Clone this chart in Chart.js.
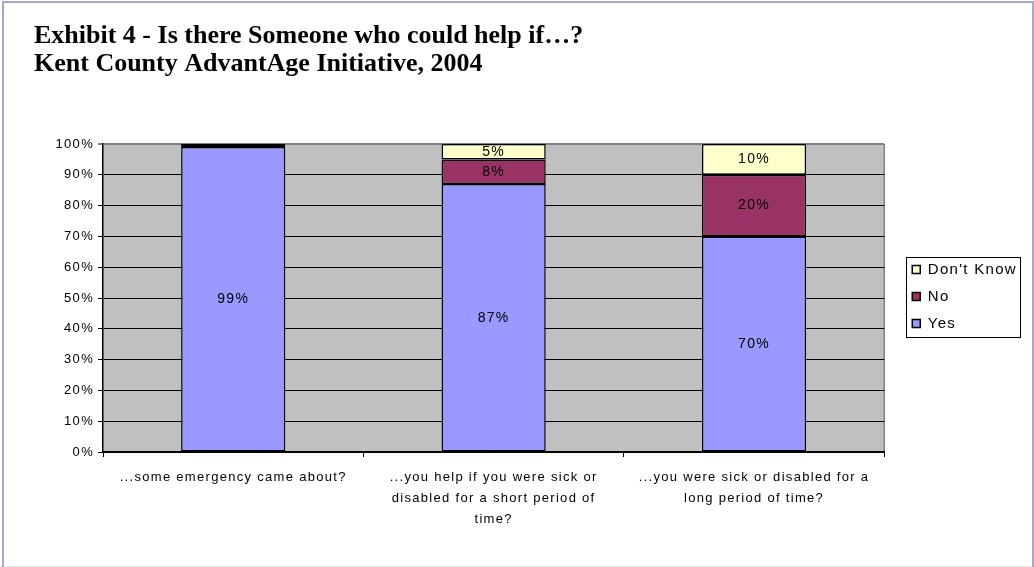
<!DOCTYPE html>
<html>
<head>
<meta charset="utf-8">
<script src="https://cdn.jsdelivr.net/npm/chart.js@4.4.1/dist/chart.umd.min.js"></script>
<style>
  html, body { margin: 0; padding: 0; background: #fff; }
  #wrap { position: relative; width: 1034px; height: 567px; overflow: hidden; }
  #frame {
    position: absolute; left: 2px; top: 1px; width: 1028px; height: 600px;
    border: 2px solid #a6a6d4; border-bottom: none; pointer-events: none;
  }
  #foot { position: absolute; left: 0; top: 566px; width: 1034px; height: 1px; background: #e6e6e6; }
</style>
</head>
<body>
<div id="wrap">
  <canvas id="chart" width="1034" height="567"></canvas>
  <div id="foot"></div>
  <div id="frame"></div>
</div>
<script>
const categories = [
  ["...some emergency came about?"],
  ["...you help if you were sick or", "disabled for a short period of", "time?"],
  ["...you were sick or disabled for a", "long period of time?"],
];
const yesValues = [99, 87, 70];
const noValues = [1, 8, 20];
const dontKnowValues = [0, 5, 10];
const yTickStep = 10;
const titleLines = [
  "Exhibit 4 - Is there Someone who could help if\u2026?",
  "Kent County AdvantAge Initiative, 2004",
];

const spacing = "1.3px";
Chart.defaults.font.family = "'Liberation Sans', Arial, sans-serif";
Chart.defaults.color = "#000";

// Excel-ish look: grey plot area, spaced text, boxed legend, value labels
const excelLook = {
  id: "excelLook",
  afterInit(chart) {
    // title keeps normal spacing
    const t = chart.titleBlock;
    const orig = t.draw;
    t.draw = function (...args) {
      this.ctx.letterSpacing = "0px";
      orig.apply(this, args);
      this.ctx.letterSpacing = spacing;
    };
  },
  beforeUpdate(chart) {
    chart.ctx.letterSpacing = spacing;
  },
  afterLayout(chart) {
    const lg = chart.legend;
    lg.left += 16;
    lg.right += 16;
    lg.top += 2;
    lg.bottom += 2;
  },
  beforeDraw(chart) {
    const { ctx, chartArea: a } = chart;
    ctx.letterSpacing = spacing;
    ctx.save();
    ctx.fillStyle = "#c0c0c0";
    ctx.fillRect(a.left, a.top, a.width, a.height);
    ctx.strokeStyle = "#808080";
    ctx.lineWidth = 1.5;
    ctx.beginPath();
    ctx.moveTo(a.right, a.top);
    ctx.lineTo(a.right, a.bottom);
    ctx.stroke();
    ctx.restore();
  },
  afterDatasetsDraw(chart) {
    const ctx = chart.ctx;
    ctx.save();
    ctx.font = "14px 'Liberation Sans', Arial, sans-serif";
    ctx.fillStyle = "#000";
    ctx.textAlign = "center";
    ctx.textBaseline = "middle";
    chart.data.datasets.forEach((ds, di) => {
      chart.getDatasetMeta(di).data.forEach((bar, i) => {
        const v = ds.data[i];
        if (v < 5) return;
        ctx.fillText(v + "%", bar.x, (bar.y + bar.base) / 2);
      });
    });
    ctx.restore();
  },
  afterDraw(chart) {
    const boxes = chart.legend.legendHitBoxes;
    if (!boxes || !boxes.length) return;
    const left = Math.min(...boxes.map(b => b.left)) - 6;
    const right = Math.max(...boxes.map(b => b.left + b.width)) + 3;
    const top = Math.min(...boxes.map(b => b.top)) - 5;
    const bottom = Math.max(...boxes.map(b => b.top + b.height)) + 6;
    const ctx = chart.ctx;
    ctx.save();
    ctx.strokeStyle = "#000";
    ctx.lineWidth = 1;
    ctx.strokeRect(Math.round(left) + 0.5, Math.round(top) + 0.5, Math.round(right - left), Math.round(bottom - top));
    ctx.restore();
  },
};

const ctx = document.getElementById("chart");

new Chart(ctx, {
  type: "bar",
  data: {
    labels: categories,
    datasets: [
      {
        label: "Yes",
        data: yesValues,
        backgroundColor: "#9999ff",
        borderColor: "#000",
        borderWidth: 1.5,
        borderSkipped: false,
      },
      {
        label: "No",
        data: noValues,
        backgroundColor: "#993366",
        borderColor: "#000",
        borderWidth: 1.5,
        borderSkipped: false,
      },
      {
        label: "Don't Know",
        data: dontKnowValues,
        backgroundColor: "#ffffcc",
        borderColor: "#000",
        borderWidth: 1.5,
        borderSkipped: false,
      },
    ],
  },
  options: {
    responsive: false,
    animation: false,
    barPercentage: 0.4,
    categoryPercentage: 1,
    layout: { padding: { left: 34, top: 22, right: 23, bottom: 0 } },
    plugins: {
      title: {
        display: true,
        align: "start",
        text: titleLines,
        color: "#000",
        font: { family: "'Liberation Serif', 'Times New Roman', serif", size: 26, weight: "bold", lineHeight: "28px" },
        padding: { top: 0, bottom: 66 },
      },
      legend: {
        position: "right",
        reverse: true,
        labels: {
          boxWidth: 8,
          boxHeight: 8,
          padding: 12,
          color: "#000",
          font: { size: 15 },
        },
      },
      tooltip: { enabled: false },
    },
    scales: {
      x: {
        stacked: true,
        grid: { offset: true, drawOnChartArea: false, tickLength: 5, color: "#000" },
        border: { color: "#000", width: 1.5 },
        ticks: { autoSkip: false, maxRotation: 0, padding: 10, font: { size: 13, lineHeight: 1.6 } },
        afterFit(scale) { scale.height = 115; },
      },
      y: {
        stacked: true,
        min: 0,
        max: 100,
        ticks: { stepSize: yTickStep, padding: 4, font: { size: 13 }, callback: v => v + "%" },
        grid: {
          tickLength: 5,
          color: c => (c.tick && c.tick.value === 100 ? "#808080" : "#000"),
          lineWidth: c => (c.tick && c.tick.value === 100 ? 2 : 1),
        },
        border: { color: "#000", width: 1.5 },
        afterFit(scale) { scale.width = 69; },
      },
    },
  },
  plugins: [excelLook],
});
</script>
</body>
</html>
